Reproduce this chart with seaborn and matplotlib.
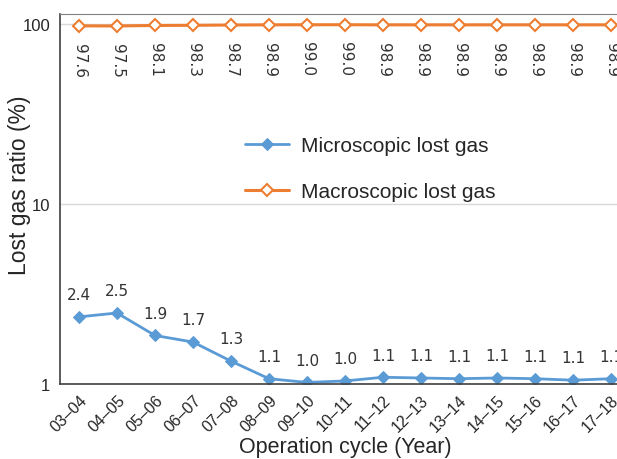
import numpy as np
import pandas as pd
import matplotlib
matplotlib.use('Agg')
import matplotlib.pyplot as plt
from matplotlib.ticker import FixedLocator, NullLocator, NullFormatter
import seaborn as sns

sns.set_style('white')
plt.rcParams['font.family'] = ['Liberation Sans', 'DejaVu Sans']

# Data
cycles = ['03–04', '04–05', '05–06', '06–07', '07–08', '08–09', '09–10', '10–11',
          '11–12', '12–13', '13–14', '14–15', '15–16', '16–17', '17–18']
micro = [2.36, 2.48, 1.86, 1.71, 1.34, 1.07, 1.02, 1.04, 1.09, 1.08, 1.07, 1.08, 1.07, 1.05, 1.07]
micro_labels = ['2.4', '2.5', '1.9', '1.7', '1.3', '1.1', '1.0', '1.0', '1.1', '1.1',
                '1.1', '1.1', '1.1', '1.1', '1.1']
macro = [97.6, 97.5, 98.1, 98.3, 98.7, 98.9, 99.0, 99.0, 98.9, 98.9, 98.9, 98.9, 98.9, 98.9, 98.9]

BLUE = '#5B9BD5'
ORANGE = '#ED7D31'

df = pd.DataFrame({'cycle': cycles, 'micro': micro, 'macro': macro})
xpos = np.arange(len(cycles))

fig = plt.figure(figsize=(6.17, 4.60), dpi=100)
ax = fig.add_axes([60 / 617, 1 - 385 / 460, 570 / 617, 370 / 460])

sns.lineplot(x=xpos, y=df['micro'], ax=ax, color=BLUE, lw=2, marker='D', ms=6,
             markeredgecolor=BLUE, markerfacecolor=BLUE, label='Microscopic lost gas')
sns.lineplot(x=xpos, y=df['macro'], ax=ax, color=ORANGE, lw=2.2, marker='D', ms=6.5,
             markeredgecolor=ORANGE, markerfacecolor='white', markeredgewidth=1.5,
             label='Macroscopic lost gas')

ax.set_yscale('log')
ax.set_ylim(1, 113.6)
ax.set_xlim(-0.5, len(cycles) - 0.5)
ax.yaxis.set_major_locator(FixedLocator([1, 10, 100]))
ax.yaxis.set_minor_locator(NullLocator())
ax.yaxis.set_minor_formatter(NullFormatter())
ax.set_yticklabels(['1', '10', '100'], fontsize=12)
ax.grid(axis='y', color='#d9d9d9', lw=1)
ax.set_axisbelow(True)

ax.set_xticks(xpos)
ax.set_xticklabels(cycles, rotation=45, ha='right', rotation_mode='anchor', fontsize=11.5)
ax.set_xticks(np.arange(-0.5, len(cycles), 1), minor=True)
ax.tick_params(axis='x', which='major', length=0, pad=6)
ax.tick_params(axis='x', which='minor', length=4, direction='in', color='#404040')
ax.tick_params(axis='y', which='major', length=4, direction='out', color='#808080', pad=3)

for side in ['left', 'bottom']:
    ax.spines[side].set_color('#404040')
    ax.spines[side].set_linewidth(1.2)
ax.spines['top'].set_color('#808080')
ax.spines['right'].set_visible(False)

for i, (v, lab) in enumerate(zip(micro, micro_labels)):
    ax.annotate(lab, (i, v), xytext=(0, 16), textcoords='offset points',
                ha='center', va='center', fontsize=11, color='#333333',
                family='DejaVu Sans')
for i, v in enumerate(macro):
    ax.annotate('%.1f' % v, (i, v), xytext=(0, -12), textcoords='offset points',
                ha='center', va='top', rotation=270, fontsize=11, color='#333333',
                family='DejaVu Sans')

ax.set_ylabel('Lost gas ratio (%)', fontsize=16.5)
ax.yaxis.set_label_coords(-0.05, 0.54)
ax.set_xlabel('Operation cycle (Year)', fontsize=15.5, labelpad=1)

ax.legend(loc='center left', bbox_to_anchor=(226 / 617, 1 - 169.5 / 460),
          bbox_transform=fig.transFigure, frameon=False, fontsize=15,
          handlelength=2.1, handletextpad=0.6, labelspacing=1.3)

fig.savefig('out.png', dpi=100)
plt.close()
